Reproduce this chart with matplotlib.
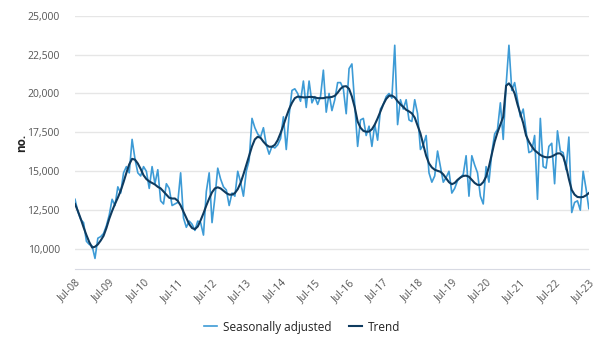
import matplotlib
matplotlib.use('Agg')
import matplotlib.pyplot as plt

plt.rcParams['font.family'] = ['Open Sans', 'DejaVu Sans']

# monthly series, Jul-08 .. Jul-23
seas_adj = [
    13200, 12400, 11900, 11700, 10500, 10300, 10200, 9400, 10700, 10800, 11000, 11500,
    12200, 13200, 12800, 14000, 13600, 14900, 15300, 14900, 17050, 15800, 14900, 14700,
    15300, 15000, 13900, 15300, 14200, 15100, 13100, 12900, 14200, 13900, 12800, 12900,
    13000, 14900, 12000, 11400, 11800, 11600, 11200, 11800, 11700, 10900, 13700, 14900,
    11700, 13300, 15200, 14500, 14000, 13800, 12800, 13600, 13400, 15000, 14300, 13400,
    15000, 15700, 18400, 17800, 17400, 17200, 17800, 16700, 16100, 16600, 16500, 16700,
    17100, 18500, 16400, 18600, 20200, 20300, 20000, 19500, 20800, 19100, 20800, 19400,
    19800, 19300, 19800, 21500, 18800, 20000, 18900, 19600, 20700, 20700, 20300, 18700,
    21600, 21900, 19300, 16600, 18300, 18400, 17300, 17900, 16600, 18000, 17000, 19000,
    19300, 19800, 20000, 19700, 23100, 18000, 19600, 19000, 19600, 18300, 18200, 19600,
    18700, 16400, 16700, 17300, 14900, 14300, 14700, 16300, 15300, 14300, 14600, 15000,
    13600, 13900, 14400, 14600, 14800, 16000, 13400, 16000, 15400, 14900, 13400, 12900,
    15300, 14300, 16200, 17400, 17700, 19400, 17050, 20500, 23100, 20200, 20700, 19600,
    18500, 19000, 17600, 16200, 16300, 17300, 13200, 18400, 15300, 15200, 16600, 16800,
    14200, 17600, 16300, 16200, 15100, 17200, 12350, 13000, 13100, 12500, 15000, 13900, 12600,
]

trend = [
    12900, 12450, 11950, 11400, 10900, 10450, 10100, 10150, 10300, 10550, 10850, 11350,
    11950, 12450, 12900, 13300, 13750, 14300, 14900, 15450, 15800, 15750, 15500, 15150,
    14750, 14500, 14350, 14250, 14150, 14000, 13900, 13700, 13500, 13300, 13250, 13250,
    13100, 12800, 12400, 12000, 11600, 11350, 11280, 11450, 11850, 12300, 12800, 13250,
    13650, 13900, 13970, 13900, 13750, 13600, 13500, 13500, 13600, 13850, 14250, 14800,
    15400, 16000, 16600, 17050, 17220, 17150, 16900, 16700, 16580, 16580, 16700, 17000,
    17450, 17950, 18500, 19000, 19400, 19700, 19800, 19780, 19750, 19750, 19780, 19780,
    19750, 19700, 19700, 19700, 19750, 19750, 19780, 19850, 20050, 20300, 20450, 20470,
    20300, 19800, 19100, 18200, 17800, 17600, 17540, 17550, 17700, 18000, 18400, 18850,
    19300, 19650, 19850, 19870, 19750, 19500, 19300, 19140, 18950, 18850, 18720, 18450,
    17950, 17430, 16700, 16000, 15510, 15250, 15100, 15030, 14970, 14800, 14550, 14300,
    14170, 14250, 14450, 14600, 14700, 14720, 14650, 14450, 14250, 14130, 14120, 14300,
    14650, 15300, 16100, 16900, 17500, 18000, 18500, 20500, 20650, 20400, 20000, 19300,
    18700, 18100, 17300, 16900, 16600, 16350, 16200, 16050, 15950, 15900, 15900, 15950,
    16050, 16150, 16150, 15950, 15350, 14500, 13800, 13500, 13350, 13330, 13350, 13450, 13600,
]

tick_labels = ['Jul-%02d' % y for y in range(8, 24)]
y_ticks = [10000, 12500, 15000, 17500, 20000, 22500, 25000]

months = list(range(len(trend)))

fig = plt.figure(figsize=(6.01, 3.45), dpi=100)
ax = fig.add_axes([0.1248, 0.2203, 0.855, 0.7342])

ax.plot(months, seas_adj, color='#3d9bd6', lw=1.2, label='Seasonally adjusted')
ax.plot(months, trend, color='#0f3b5f', lw=1.5, label='Trend')

ax.set_xlim(0, 180)
ax.set_ylim(8720, 25000)
ax.set_yticks(y_ticks)
ax.set_yticklabels(['{:,}'.format(v) for v in y_ticks])
ax.set_xticks(range(0, 181, 12))
ax.set_xticklabels(tick_labels, rotation=45, ha='right', va='top',
                   rotation_mode='anchor')

ax.grid(axis='y', color='#e6e6e6', lw=1)
ax.set_axisbelow(True)
for s in ['top', 'right', 'left']:
    ax.spines[s].set_visible(False)
ax.spines['bottom'].set_color('#d8dae3')
ax.tick_params(axis='both', length=0, labelsize=7.5, labelcolor='#555555')
ax.tick_params(axis='y', pad=11)
ax.tick_params(axis='x', pad=6)

# y label placed on the figure so it is not clipped
fig.text(22 / 601, 1 - 143 / 345, 'no.', rotation=90, ha='center', va='center',
         fontsize=8.5, fontweight='bold', color='#222222')

fig.legend(loc='center', bbox_to_anchor=(0.503, 0.052), ncol=2, frameon=False,
           fontsize=8.5, handlelength=1.1, columnspacing=1.5, handletextpad=0.5,
           labelcolor='#222222')

fig.savefig('out.png', dpi=100)
